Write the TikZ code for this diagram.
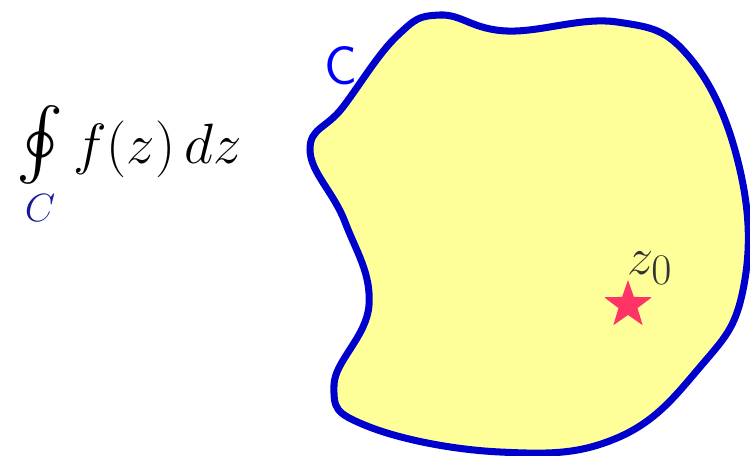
\documentclass[tikz,border=0pt]{standalone}
\usepackage{amsmath}
\usepackage{graphicx}
\usepackage{tikz}
\usetikzlibrary{shapes.geometric, positioning}

\definecolor{contourblue}{RGB}{0,0,204}
\definecolor{regionyellow}{RGB}{255,255,153}
\definecolor{labelblue}{RGB}{0,0,255}
\definecolor{subnavy}{RGB}{26,26,153}
\definecolor{starred}{RGB}{255,51,102}
\definecolor{pointgrey}{RGB}{51,51,51}

\begin{document}
\begin{tikzpicture}[x=0.02cm, y=-0.02cm,
        contour/.style={draw=contourblue, fill=regionyellow, line width=4pt, line join=round},
        formula/.style={inner sep=0pt, font=\Huge},
        curvelabel/.style={text=labelblue, font=\sffamily\Huge, inner sep=0pt},
        pole/.style={star, star points=5, star point ratio=2.5, fill=starred, draw=none, minimum size=1cm, inner sep=0pt},
        polelabel/.style={text=pointgrey, font=\Huge, inner sep=0pt}
    ]
    \useasboundingbox (0,0) rectangle (750,456);

    % Region
    \draw[contour] plot[smooth cycle, tension=0.7] coordinates {
        (440,15) (507,31) (617,22) (690,58) (740,170) (743,290)
        (700,367) (617,438) (500,452) (367,426) (334,385) (369,305)
        (345,222) (310,150) (343,107) (397,36)};

    % Labels
    \node[curvelabel] (clabel) at (341,66) {\scalebox{1.25}{C}};
    \node[formula, anchor=base west] (integral) at (16,163) {\scalebox{1.3}{$\mathop{\scalebox{1.25}{$\oint$}}\limits_{\color{subnavy}\scriptscriptstyle C} f(z)\, dz$}};

    % Point
    \node[pole] (zstar) at (628,305) {};
    \node[polelabel] (zlabel) at (650,268) {\scalebox{1.2}{$z_0$}};

\end{tikzpicture}
\end{document}
